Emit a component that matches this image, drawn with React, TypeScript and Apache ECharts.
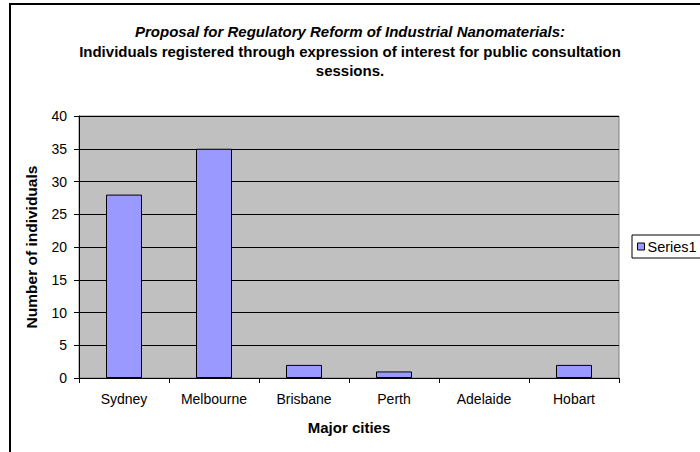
import React, { useEffect, useRef } from "react";
import * as echarts from "echarts";

const categories = ["Sydney", "Melbourne", "Brisbane", "Perth", "Adelaide", "Hobart"];
const seriesValues = [28, 35, 2, 1, 0, 2];
const seriesName = "Series1";
const titleLine1 = "Proposal for Regulatory Reform of Industrial Nanomaterials:";
const titleLine2 = "Individuals registered through expression of interest for public consultation";
const titleLine3 = "sessions.";
const yAxisTitle = "Number of individuals";
const xAxisTitle = "Major cities";

export default function App() {
  const ref = useRef<HTMLDivElement>(null);
  useEffect(() => {
    if (!ref.current) return;
    const chart = echarts.init(ref.current, null, { renderer: "svg" });
    const font = "Arial, 'Liberation Sans', sans-serif";
    const barData = seriesValues.map((v) =>
      v === 0 ? { value: v, itemStyle: { borderWidth: 0 } } : v
    );
    chart.setOption({
      animation: false,
      textStyle: { fontFamily: font },
      graphic: [
        {
          type: "rect",
          shape: { x: 10, y: 4, width: 720, height: 500 },
          style: { fill: "none", stroke: "#000", lineWidth: 2 },
          silent: true,
        },
        {
          type: "text",
          left: "center",
          top: 24,
          style: { text: titleLine1, font: `italic bold 15px ${font}`, fill: "#000" },
        },
        {
          type: "text",
          left: "center",
          top: 44,
          style: { text: titleLine2, font: `bold 15px ${font}`, fill: "#000" },
        },
        {
          type: "text",
          left: "center",
          top: 63,
          style: { text: titleLine3, font: `bold 15px ${font}`, fill: "#000" },
        },
      ],
      legend: {
        show: true,
        left: 632,
        top: 235,
        orient: "vertical",
        itemWidth: 7,
        itemHeight: 7,
        itemGap: 4,
        padding: [4, 6, 4, 5],
        borderColor: "#000",
        borderWidth: 1,
        borderRadius: 0,
        icon: "rect",
        textStyle: { fontSize: 14.5, color: "#000", fontFamily: font, padding: [0, 0, 0, -2] },
        data: [{ name: seriesName, itemStyle: { borderColor: "#000", borderWidth: 1 } }],
      },
      grid: {
        left: 79,
        right: 81,
        top: 116,
        bottom: 74,
        show: true,
        backgroundColor: "#C0C0C0",
        borderColor: "#808080",
        borderWidth: 1,
        containLabel: false,
      },
      xAxis: {
        type: "category",
        data: categories,
        name: xAxisTitle,
        nameLocation: "middle",
        nameGap: 42,
        nameTextStyle: { fontWeight: "bold", fontSize: 15, color: "#000", fontFamily: font },
        axisLine: { show: true, lineStyle: { color: "#000", width: 1 } },
        axisTick: { show: true, length: 5, lineStyle: { color: "#000" } },
        axisLabel: { color: "#000", fontSize: 14, margin: 14, fontFamily: font },
        splitLine: { show: false },
      },
      yAxis: {
        type: "value",
        min: 0,
        max: 40,
        interval: 5,
        name: yAxisTitle,
        nameLocation: "middle",
        nameGap: 40,
        nameRotate: 90,
        nameTextStyle: { fontWeight: "bold", fontSize: 15.5, color: "#000", fontFamily: font },
        axisLine: { show: true, lineStyle: { color: "#000", width: 1 } },
        axisTick: { show: true, length: 5, lineStyle: { color: "#000" } },
        axisLabel: { color: "#000", fontSize: 14, margin: 12, fontFamily: font },
        splitLine: { show: true, lineStyle: { color: "#000", width: 1 } },
      },
      series: [
        {
          name: seriesName,
          type: "bar",
          data: barData,
          barCategoryGap: "60%",
          itemStyle: { color: "#9999FF", borderColor: "#000", borderWidth: 1 },
        },
      ],
    });
    return () => chart.dispose();
  }, []);
  return (
    <div
      ref={ref}
      style={{ position: "fixed", left: 0, top: 0, width: 700, height: 452, background: "#fff" }}
    />
  );
}
